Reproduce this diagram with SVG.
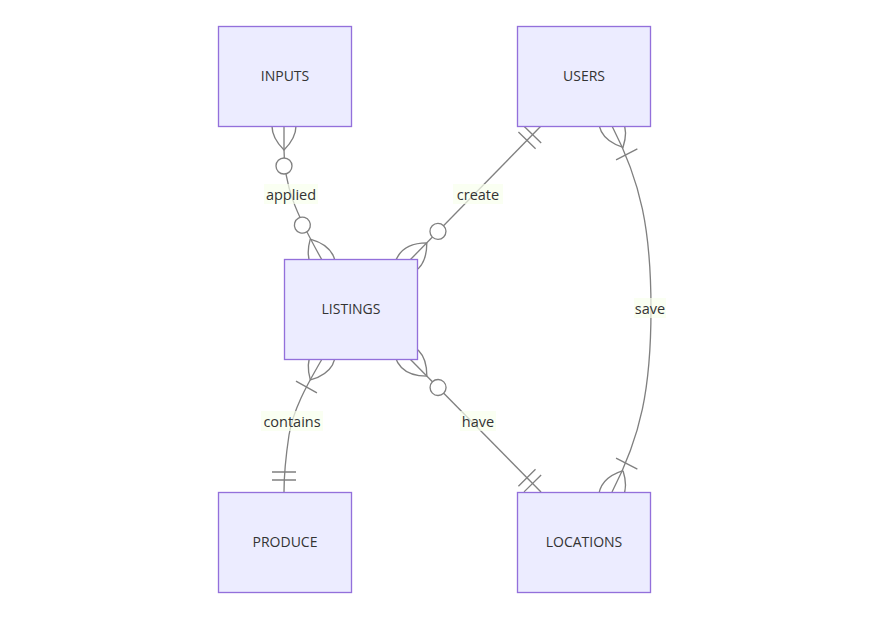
<svg xmlns="http://www.w3.org/2000/svg" width="885" height="619" viewBox="0 0 885 619">
<style>
.box{fill:#ECECFF;stroke:#9370DB;stroke-width:1.33}
.ent{font-family:"Open Sans","Liberation Sans",sans-serif;font-size:14px;fill:#333;text-anchor:middle;dominant-baseline:central}
.rel{fill:none;stroke:#808080;stroke-width:1.33}
.lbox{fill:#F8FFEC;opacity:0.7}
.lbl{font-family:"Open Sans","Liberation Sans",sans-serif;font-size:14.5px;fill:#333;text-anchor:middle;dominant-baseline:central}
.mk{fill:none;stroke:#808080;stroke-width:1}
.mkc{fill:#fff;stroke:#808080;stroke-width:1}
</style>
<defs>
<marker id="zmS" viewBox="0 0 57 36" refX="18" refY="18" markerWidth="76" markerHeight="48" markerUnits="userSpaceOnUse" orient="auto" overflow="visible">
<circle class="mkc" cx="48" cy="18" r="6"/>
<path class="mk" d="M0,18 Q18,0 36,18 Q18,36 0,18"/>
</marker>
<marker id="zmE" viewBox="0 0 57 36" refX="39" refY="18" markerWidth="76" markerHeight="48" markerUnits="userSpaceOnUse" orient="auto" overflow="visible">
<circle class="mkc" cx="9" cy="18" r="6"/>
<path class="mk" d="M21,18 Q39,0 57,18 Q39,36 21,18"/>
</marker>
<marker id="ooS" viewBox="0 0 18 18" refX="0" refY="9" markerWidth="24" markerHeight="24" markerUnits="userSpaceOnUse" orient="auto" overflow="visible">
<path class="mk" d="M9,0 L9,18 M15,0 L15,18"/>
</marker>
<marker id="ooE" viewBox="0 0 18 18" refX="18" refY="9" markerWidth="24" markerHeight="24" markerUnits="userSpaceOnUse" orient="auto" overflow="visible">
<path class="mk" d="M3,0 L3,18 M9,0 L9,18"/>
</marker>
<marker id="omS" viewBox="0 0 45 36" refX="18" refY="18" markerWidth="60" markerHeight="48" markerUnits="userSpaceOnUse" orient="auto" overflow="visible">
<path class="mk" d="M0,18 Q18,0 36,18 Q18,36 0,18 M42,9 L42,27"/>
</marker>
<marker id="omE" viewBox="0 0 45 36" refX="27" refY="18" markerWidth="60" markerHeight="48" markerUnits="userSpaceOnUse" orient="auto" overflow="visible">
<path class="mk" d="M3,9 L3,27 M9,18 Q27,0 45,18 Q27,36 9,18"/>
</marker>
</defs>
<g id="connectors">
<path class="rel" d="M284,126 L284,150 C284,185 295,212 322,260" marker-start="url(#zmS)" marker-end="url(#zmE)"/>
<path class="rel" d="M541,126 L410,260" marker-start="url(#ooS)" marker-end="url(#zmE)"/>
<path class="rel" d="M612,126 C641,182 651,230 651,309 C651,388 641,436 612,492" marker-start="url(#omS)" marker-end="url(#omE)"/>
<path class="rel" d="M322,359 C312,377 294,405 289,435 C286,455 284,470 284,492" marker-start="url(#omS)" marker-end="url(#ooE)"/>
<path class="rel" d="M410,359 L541,492" marker-start="url(#zmS)" marker-end="url(#ooE)"/>
<g id="label-applied"><rect class="lbox" x="264" y="184" width="54" height="20"/><text class="lbl" x="291" y="194">applied</text></g>
<g id="label-create"><rect class="lbox" x="453" y="184" width="50" height="20"/><text class="lbl" x="478" y="194">create</text></g>
<g id="label-save"><rect class="lbox" x="634" y="298" width="32" height="20"/><text class="lbl" x="650" y="308">save</text></g>
<g id="label-contains"><rect class="lbox" x="261" y="411" width="62" height="20"/><text class="lbl" x="292" y="421">contains</text></g>
<g id="label-have"><rect class="lbox" x="460" y="411" width="36" height="20"/><text class="lbl" x="478" y="421">have</text></g>
</g>
<g id="INPUTS"><rect class="box" x="218.5" y="26.5" width="133" height="100"/><text class="ent" x="285" y="75">INPUTS</text></g>
<g id="USERS"><rect class="box" x="517.5" y="26.5" width="133" height="100"/><text class="ent" x="584" y="75">USERS</text></g>
<g id="LISTINGS"><rect class="box" x="284.5" y="259.5" width="133" height="100"/><text class="ent" x="351" y="308">LISTINGS</text></g>
<g id="PRODUCE"><rect class="box" x="218.5" y="492.5" width="133" height="100"/><text class="ent" x="285" y="541">PRODUCE</text></g>
<g id="LOCATIONS"><rect class="box" x="517.5" y="492.5" width="133" height="100"/><text class="ent" x="584" y="541">LOCATIONS</text></g>
</svg>
